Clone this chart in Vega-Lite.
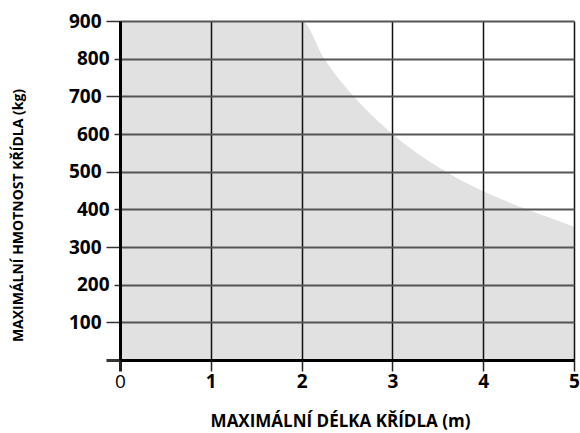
{
  "$schema": "https://vega.github.io/schema/vega-lite/v6.json",
  "width": 454,
  "height": 339,
  "autosize": "none",
  "padding": {"left": 120, "top": 21, "right": 6, "bottom": 73},
  "background": "white",
  "config": {"view": {"stroke": null}, "font": "Open Sans"},
  "data": {
    "values": [
      {"length": 0, "mass": 900},
      {"length": 2, "mass": 900},
      {"length": 2.25, "mass": 800},
      {"length": 2.5, "mass": 720},
      {"length": 2.75, "mass": 655},
      {"length": 3, "mass": 600},
      {"length": 3.25, "mass": 553},
      {"length": 3.5, "mass": 513},
      {"length": 3.75, "mass": 478},
      {"length": 4, "mass": 448},
      {"length": 4.25, "mass": 422},
      {"length": 4.5, "mass": 398},
      {"length": 4.75, "mass": 376},
      {"length": 5, "mass": 354}
    ]
  },
  "mark": {"type": "area", "color": "#e1e1e1", "interpolate": "monotone", "opacity": 1},
  "encoding": {
    "x": {
      "field": "length",
      "type": "quantitative",
      "scale": {"domain": [0, 5], "nice": false},
      "axis": {
        "title": "MAXIMÁLNÍ DÉLKA KŘÍDLA (m)",
        "values": [0, 1, 2, 3, 4, 5],
        "zindex": 1,
        "grid": true,
        "gridColor": "#111111",
        "gridWidth": 1.5,
        "gridOpacity": 1,
        "domainColor": "#000000",
        "domainWidth": 3,
        "tickColor": "#222222",
        "tickWidth": {"condition": {"test": "datum.value == 0", "value": 3}, "value": 1.5},
        "tickSize": 11,
        "labelFont": "Open Sans",
        "labelFontSize": 19,
        "labelColor": "#000000",
        "labelFontWeight": {"condition": {"test": "datum.value == 0", "value": "normal"}, "value": "bold"},
        "labelPadding": 1,
        "labelFlush": false,
        "labelOverlap": false,
        "titleFont": "Open Sans",
        "titleFontSize": 17,
        "titleFontWeight": "bold",
        "titleColor": "#000000",
        "titleX": 220,
        "titleY": 61,
        "titleBaseline": "middle",
        "titleAlign": "center"
      }
    },
    "y": {
      "field": "mass",
      "type": "quantitative",
      "scale": {"domain": [0, 900], "nice": false},
      "axis": {
        "title": "MAXIMÁLNÍ HMOTNOST KŘÍDLA (kg)",
        "values": [0, 100, 200, 300, 400, 500, 600, 700, 800, 900],
        "zindex": 1,
        "grid": true,
        "gridColor": "#555555",
        "gridWidth": 2,
        "gridOpacity": 1,
        "domainColor": "#000000",
        "domainWidth": 3,
        "tickColor": "#333333",
        "tickWidth": {"condition": {"test": "datum.value == 0", "value": 3}, "value": 1.5},
        "tickSize": {"condition": {"test": "datum.value == 0 || datum.value % 200 == 100", "value": 14}, "value": 6},
        "labelExpr": "datum.value == 0 ? '' : datum.label",
        "labelFont": "Open Sans",
        "labelFontSize": 19,
        "labelFontWeight": "bold",
        "labelColor": "#000000",
        "labelPadding": 5,
        "labelFlush": false,
        "labelOverlap": false,
        "titleFont": "Open Sans",
        "titleFontSize": 14,
        "titleFontWeight": "bold",
        "titleColor": "#000000",
        "titleAngle": -90,
        "titleX": -102,
        "titleY": 194,
        "titleBaseline": "middle",
        "titleAlign": "center"
      }
    }
  }
}
